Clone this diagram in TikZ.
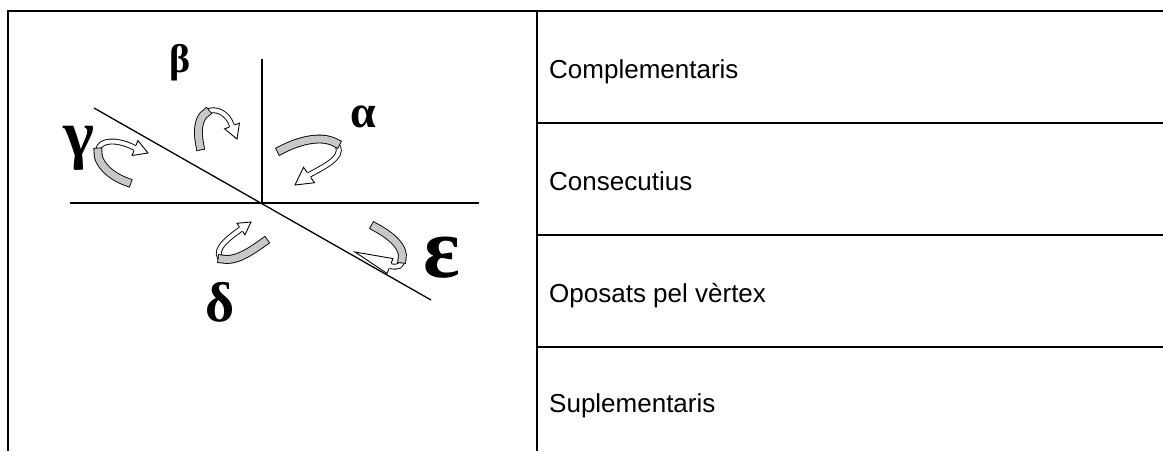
\documentclass[tikz,border=0pt]{standalone}
\usepackage{fontspec}
\setmainfont{Liberation Sans}
\newfontfamily\greekfont{Liberation Serif}
\usetikzlibrary{calc}
\definecolor{bandgray}{RGB}{200,200,200}
\newcommand\myhead[3]{%
  \fill[white] ($(#1)!#3!90:(#2)$) -- (#2) -- ($(#1)!#3!-90:(#2)$) -- cycle;
  \draw[headline] ($(#1)!2.9pt!90:(#2)$) -- ($(#1)!#3!90:(#2)$) -- (#2) -- ($(#1)!#3!-90:(#2)$) -- ($(#1)!2.9pt!-90:(#2)$);}
\begin{document}
\begin{tikzpicture}[x=1pt,y=-1pt,
  tabline/.style={line width=1.8pt},
  axis/.style={line width=1.3pt},
  celltext/.style={anchor=base west, inner sep=0pt, font=\fontsize{26}{26}\selectfont},
  greek/.style={inner sep=0pt, font=\greekfont\bfseries\fontsize{#1}{#1}\selectfont},
  band/.style={line width=0.9pt, double=bandgray, double distance=7pt, line cap=rect},
  shaft/.style={line width=5.8pt, postaction={draw=white, line width=4pt}},
  headline/.style={line width=0.9pt, line join=miter}
]
\useasboundingbox (0,0) rectangle (1163,451);
% table
\coordinate (TL) at (8,11);
\coordinate (TR) at (1163,11);
\coordinate (BL) at (8,451);
\coordinate (TM) at (537,11);
\coordinate (BM) at (537,451);
\coordinate (r1a) at (537,123); \coordinate (r1b) at (1163,123);
\coordinate (r2a) at (537,235); \coordinate (r2b) at (1163,235);
\coordinate (r3a) at (537,347); \coordinate (r3b) at (1163,347);
\draw[tabline] (BL) -- (TL) -- (TR);
\draw[tabline] (TM) -- (BM);
\draw[tabline] (r1a) -- (r1b);
\draw[tabline] (r2a) -- (r2b);
\draw[tabline] (r3a) -- (r3b);
\node[celltext] (c1) at (549,78) {Complementaris};
\node[celltext] (c2) at (549,190) {Consecutius};
\node[celltext] (c3) at (549,302) {Oposats pel vèrtex};
\node[celltext] (c4) at (549,412) {Suplementaris};
% lines
\coordinate (O) at (262,203);
\coordinate (H1) at (70,203);
\coordinate (H2) at (479,203);
\coordinate (V1) at (262,59);
\coordinate (D1) at (94,108);
\coordinate (D2) at (431,300);
\draw[axis] (H1) -- (H2);
\draw[axis] (O) -- (V1);
\draw[axis] (D1) -- (D2);
% labels
\node[greek=40] (beta) at (180,63) {β};
\node[greek=46] (alpha) at (363,117) {α};
\node[greek=66] (gamma) at (79,148) {γ};
\node[greek=56] (delta) at (220,302) {δ};
\node[greek=86] (eps) at (442,258) {ε};
% gamma arrow
\coordinate (gB) at (135,148); \coordinate (gT) at (148,153);
\draw[shaft] (98,150) .. controls (100,139) and (118,139) .. (gB);
\myhead{gB}{gT}{8pt}
\draw[band] (127,182) .. controls (110,176) and (97,163) .. (98,152);
% beta arrow
\coordinate (bB) at (232,126); \coordinate (bT) at (237,139);
\draw[shaft] (206,112) .. controls (216,107) and (228,113) .. (bB);
\myhead{bB}{bT}{8pt}
\draw[band] (200,146) .. controls (197,132) and (198,118) .. (206,113);
% alpha arrow
\coordinate (aB) at (309,175); \coordinate (aT) at (295,185);
\draw[shaft] (338,146) .. controls (343,158) and (325,166) .. (aB);
\myhead{aB}{aT}{9.5pt}
\draw[band] (281,150) .. controls (300,140) and (322,135) .. (336,143);
% delta arrow
\coordinate (dB) at (241,229); \coordinate (dT) at (251,222);
\draw[shaft] (220,258) .. controls (214,248) and (230,237) .. (dB);
\myhead{dB}{dT}{7pt}
\draw[band] (264,242) .. controls (250,252) and (235,262) .. (222,259);
% epsilon arrow
\coordinate (eB) at (390,266); \coordinate (eT) at (355,252);
\draw[shaft] (402,258) .. controls (403,266) and (398,268) .. (eB);
\myhead{eB}{eT}{8pt}
\draw[band] (375,227) .. controls (392,236) and (405,248) .. (402,259);
\end{tikzpicture}
\end{document}
